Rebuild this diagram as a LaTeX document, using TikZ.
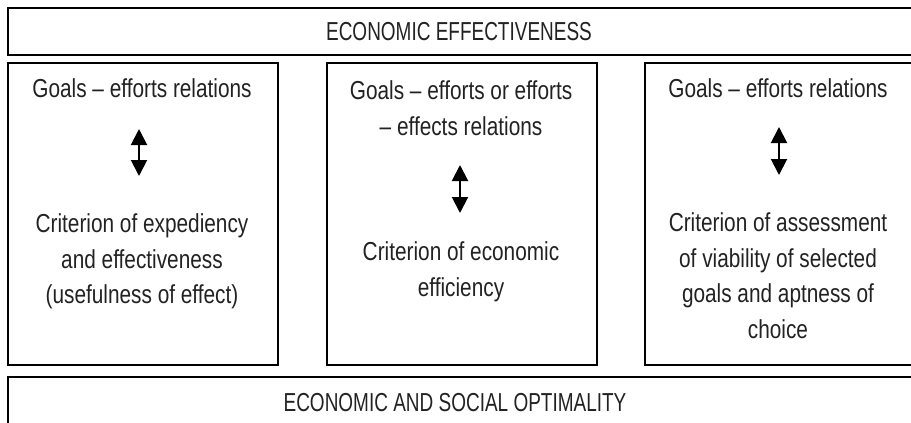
\documentclass[tikz,border=0pt]{standalone}
\usepackage{fontspec}
\setmainfont{Liberation Sans}[FakeStretch=0.8]
\newfontfamily\capsfont{Liberation Sans}[FakeStretch=0.73]
\usetikzlibrary{arrows.meta}
\definecolor{txt}{HTML}{222222}
\tikzset{
  frame/.style={draw=black, line width=1.3pt},
  lbl/.style={align=center, inner sep=0pt, text=txt, font=\fontsize{26}{35.5}\selectfont},
  ttl/.style={lbl, font=\capsfont\fontsize{26}{35.5}\selectfont},
  dblarrow/.style={line width=2pt, {Triangle[width=16pt,length=16pt]}-{Triangle[width=16pt,length=16pt]}}
}
\begin{document}
\begin{tikzpicture}[x=1pt,y=-1pt]
\useasboundingbox (0,0) rectangle (911,423);
\begin{scope}
\clip (0,0) rectangle (911,423);
% boxes
\draw[frame] (8,8) rectangle (920,55);
\draw[frame] (8,63) rectangle (278,365);
\draw[frame] (327,63) rectangle (597,365);
\draw[frame] (645,63) rectangle (920,365);
\draw[frame] (8,377) rectangle (920,440);
\end{scope}
% titles
\node[ttl] (top) at (459,31.5) {ECONOMIC EFFECTIVENESS};
\node[ttl] (bot) at (455,402.5) {ECONOMIC AND SOCIAL OPTIMALITY};
% left
\node[lbl] (l1) at (142,88.5) {Goals -- efforts relations};
\node[lbl] (l2) at (142,261.7) {Criterion of expediency\\and effectiveness\\(usefulness of effect)};
% middle
\node[lbl] (m1) at (461,108) {Goals -- efforts or efforts\\-- effects relations};
\node[lbl] (m2) at (461,272) {Criterion of economic\\efficiency};
% right
\node[lbl] (r1) at (778,88.5) {Goals -- efforts relations};
\node[lbl] (r2) at (778,275.8) {Criterion of assessment\\of viability of selected\\goals and aptness of\\choice};
% arrows
\coordinate (la) at (139,129);
\coordinate (lb) at (139,176);
\coordinate (ma) at (460,165);
\coordinate (mb) at (460,213);
\coordinate (ra) at (779,127);
\coordinate (rb) at (779,175);
\draw[dblarrow] (la) -- (lb);
\draw[dblarrow] (ma) -- (mb);
\draw[dblarrow] (ra) -- (rb);
\end{tikzpicture}
\end{document}
